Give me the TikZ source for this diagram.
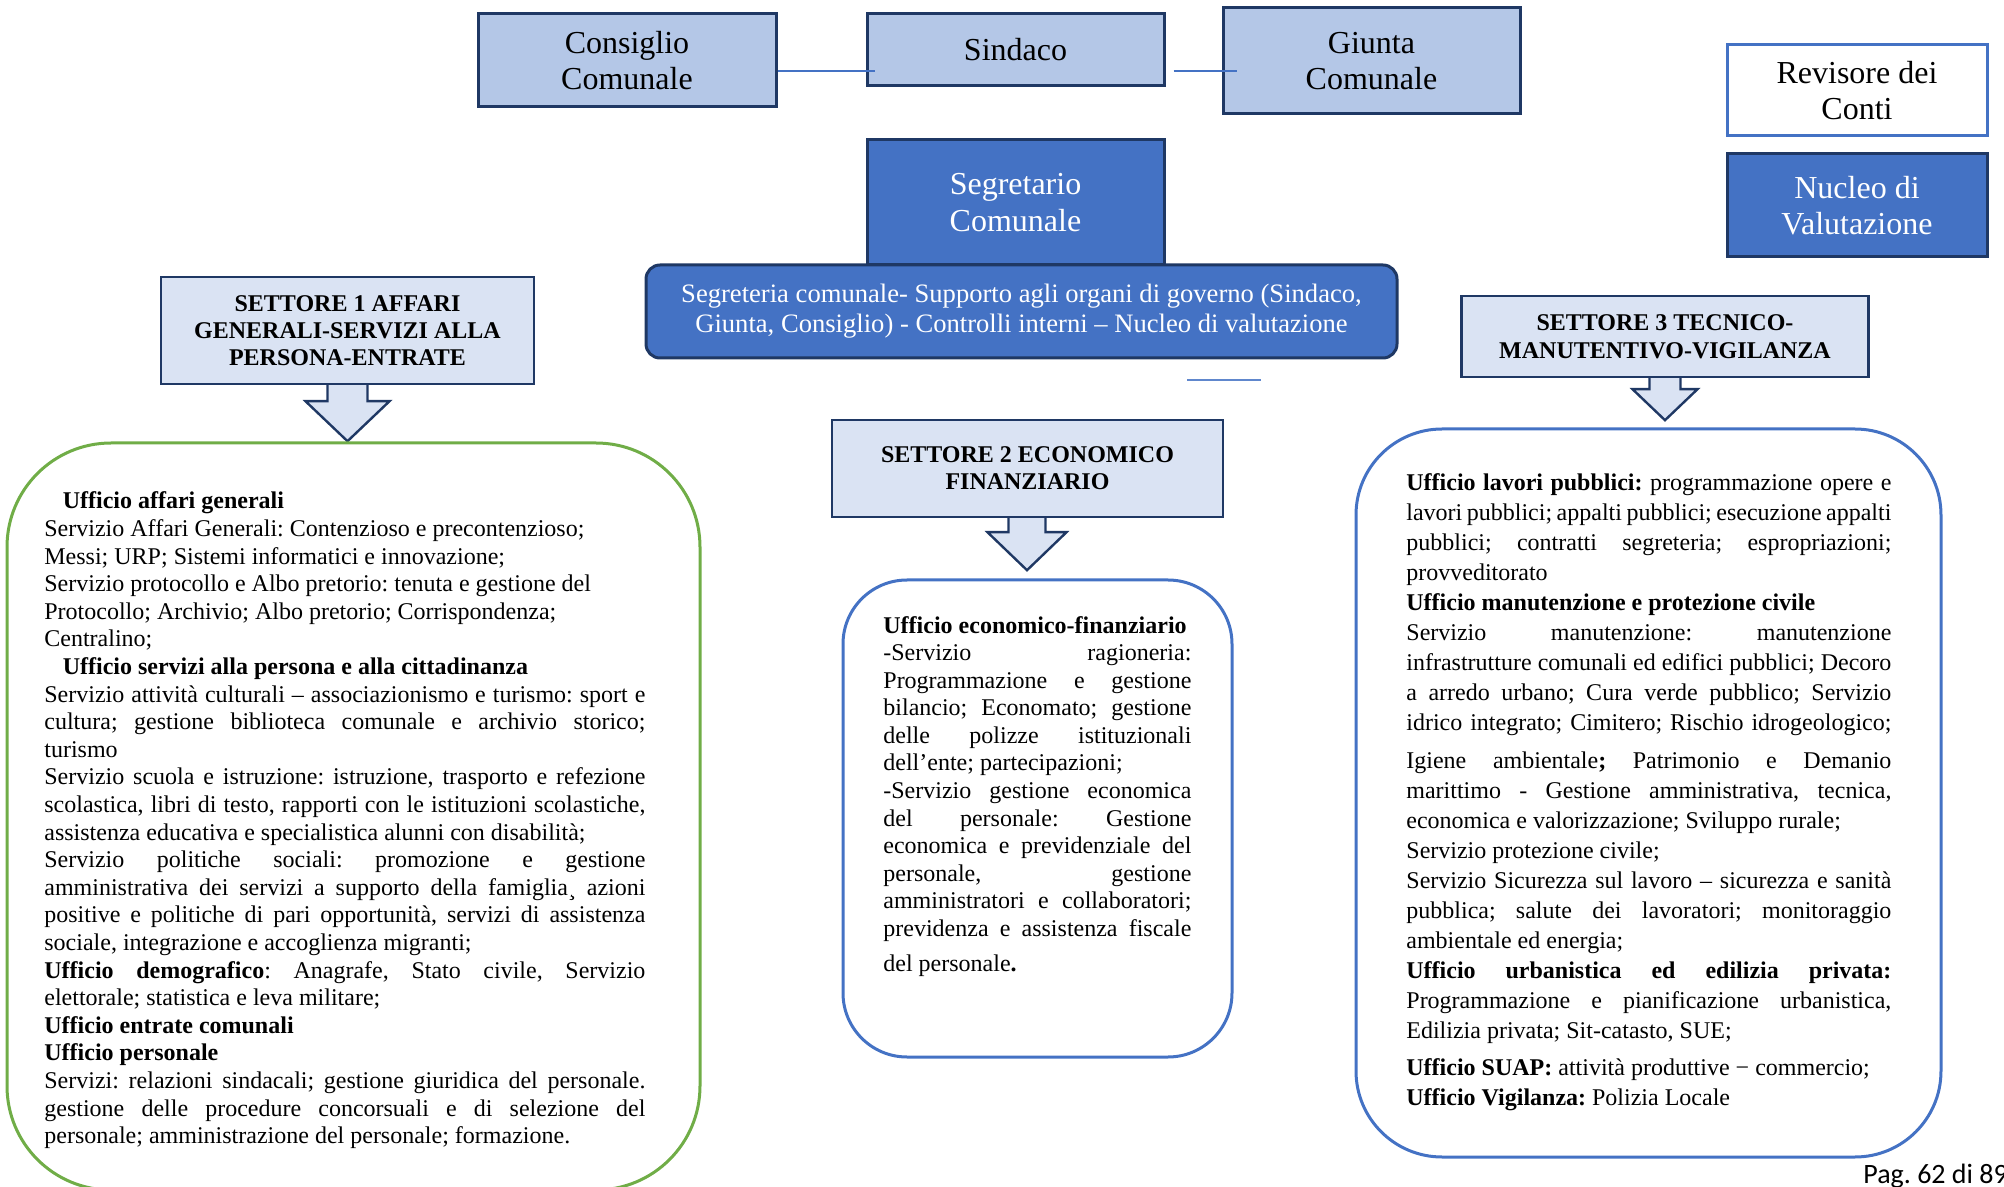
\documentclass[tikz,border=0pt]{standalone}
\usepackage{fontspec}
\setmainfont{Liberation Serif}
\newfontfamily\calibri{Carlito}

\definecolor{navy}{HTML}{1F3864}
\definecolor{ltblue}{HTML}{B4C7E7}
\definecolor{paleblue}{HTML}{DAE3F3}
\definecolor{midblue}{HTML}{4472C4}
\definecolor{verde}{HTML}{70AD47}

\tolerance=10000
\hbadness=10000
\hyphenpenalty=10000
\exhyphenpenalty=10000
\frenchspacing

\begin{document}
\begin{tikzpicture}[x=0.5pt,y=-0.5pt,
    organo/.style={draw=navy,line width=1.5pt,fill=ltblue,inner sep=0pt,align=center,font=\fontsize{16}{18.3}\selectfont},
    scuro/.style={draw=navy,line width=1.5pt,fill=midblue,text=white,inner sep=0pt,align=center,font=\fontsize{16}{18.3}\selectfont},
    settore/.style={draw=navy,line width=1.2pt,fill=paleblue,inner sep=0pt,align=center,font=\bfseries\fontsize{12}{13.6}\selectfont},
    freccia/.style={draw=navy,line width=1.2pt,fill=paleblue,line join=miter},
    ufficio/.style={line width=1.5pt,inner sep=0pt},
    testo/.style={anchor=base west,inner sep=0pt,align=justify,font=\fontsize{12}{13.8}\selectfont},
    linea/.style={midblue,line width=0.8pt}]

    % Page frame
    \useasboundingbox (0,0) rectangle (2004,1187);
    \clip (0,0) rectangle (2004,1187);

    % Organi di governo
    \node[organo,minimum width=149pt,minimum height=46.5pt] (cons) at (627,60.5) {Consiglio\\Comunale};
    \node[organo,minimum width=148.5pt,minimum height=36pt] (sind) at (1015.5,50) {Sindaco};
    \node[organo,minimum width=148.5pt,minimum height=53pt] (giunta) at (1371.5,61) {Giunta\\Comunale};

    % Links between organi
    \coordinate (ly) at (0,71);
    \draw[linea] (cons.east |- ly) -- ([xshift=4.5pt]sind.west |- ly);
    \draw[linea] ([xshift=4pt]sind.east |- ly) -- ([xshift=7.5pt]giunta.west |- ly);

    % Controllo
    \node[organo,fill=white,draw=midblue,minimum width=130pt,minimum height=45.5pt] (rev) at (1857,90.5) {Revisore dei\\Conti};
    \node[scuro,minimum width=130pt,minimum height=51.5pt] (nucleo) at (1857,205.5) {Nucleo di\\Valutazione};

    % Segretario
    \node[scuro,minimum width=148.5pt,minimum height=62.5pt] (segr) at (1015.5,202.5) {Segretario\\Comunale};
    \node[scuro,rounded corners=7pt,minimum width=375.5pt,minimum height=46.5pt,font=\fontsize{13.3}{15}\selectfont] (segreteria) at (1021.5,311.5)
        {Segreteria comunale- Supporto agli organi di governo (Sindaco,\\Giunta, Consiglio) - Controlli interni -- Nucleo di valutazione};
    \coordinate (s1) at (1187,380);
    \coordinate (s2) at (1261,380);
    \draw[linea,midblue!85] (s1) -- (s2);

    % Settori
    \node[settore,minimum width=186.5pt,minimum height=53.5pt] (set1) at (347.5,330.5) {SETTORE 1 AFFARI\\GENERALI-SERVIZI ALLA\\PERSONA-ENTRATE};
    \node[settore,minimum width=195.5pt,minimum height=48.5pt] (set2) at (1027.5,468.5) {SETTORE 2 ECONOMICO\\FINANZIARIO};
    \node[settore,font=\bfseries\fontsize{12}{14}\selectfont,minimum width=203.5pt,minimum height=40.5pt] (set3) at (1665,336.5) {SETTORE 3 TECNICO-\\MANUTENTIVO-VIGILANZA};

    % Block arrows
    \draw[freccia] ([xshift=-10pt]set1.south) -- ++(0,16) -- ++(-22,0) -- ++(42,40) -- ++(42,-40) -- ++(-22,0) -- ++(0,-16);
    \draw[freccia] ([xshift=-9.5pt]set2.south) -- ++(0,14) -- ++(-21,0) -- ++(39.5,38) -- ++(39.5,-38) -- ++(-21,0) -- ++(0,-14);
    \draw[freccia] ([xshift=-7.75pt]set3.south) -- ++(0,11) -- ++(-17,0) -- ++(32.5,31) -- ++(32.5,-31) -- ++(-17,0) -- ++(0,-11);

    % Uffici boxes
    \node[ufficio,draw=verde,rounded corners=52pt,minimum width=346.5pt,minimum height=373.5pt] (box1) at (353.5,816.5) {};
    \node[ufficio,draw=midblue,rounded corners=32pt,minimum width=194.5pt,minimum height=238.5pt] (box2) at (1037.5,818.5) {};
    \node[ufficio,draw=midblue,rounded corners=43pt,minimum width=292.5pt,minimum height=364pt] (box3) at (1648.5,793) {};

    % Settore 1 text
    \node[testo,text width=300.5pt] (txt1) at (44,509) {%
        \hspace*{9.2pt}\textbf{Ufficio affari generali}\newline
        Servizio Affari Generali: Contenzioso e precontenzioso;\newline
        Messi; URP; Sistemi informatici e innovazione;\newline
        Servizio protocollo e Albo pretorio: tenuta e gestione del\newline
        Protocollo; Archivio; Albo pretorio; Corrispondenza;\newline
        Centralino;\newline
        \hspace*{9.2pt}\textbf{Ufficio servizi alla persona e alla cittadinanza}\newline
        Servizio attività culturali – associazionismo e turismo: sport e\linebreak
        cultura; gestione biblioteca comunale e archivio storico;\linebreak
        turismo\par
        Servizio scuola e istruzione: istruzione, trasporto e refezione\linebreak
        scolastica, libri di testo, rapporti con le istituzioni scolastiche,\linebreak
        assistenza educativa e specialistica alunni con disabilità;\par
        Servizio politiche sociali: promozione e gestione\linebreak
        amministrativa dei servizi a supporto della famiglia¸ azioni\linebreak
        positive e politiche di pari opportunità, servizi di assistenza\linebreak
        sociale, integrazione e accoglienza migranti;\par
        \textbf{Ufficio demografico}: Anagrafe, Stato civile, Servizio\linebreak
        elettorale; statistica e leva militare;\par
        \textbf{Ufficio entrate comunali}\par
        \textbf{Ufficio personale}\par
        Servizi: relazioni sindacali; gestione giuridica del personale.\linebreak
        gestione delle procedure concorsuali e di selezione del\linebreak
        personale; amministrazione del personale; formazione.};

    % Settore 2 text
    \node[testo,text width=154pt] (txt2) at (883,633) {%
        \textbf{Ufficio economico-finanziario}\newline
        -Servizio ragioneria:\linebreak
        Programmazione e gestione\linebreak
        bilancio; Economato; gestione\linebreak
        delle polizze istituzionali\linebreak
        dell’ente; partecipazioni;\par
        -Servizio gestione economica\linebreak
        del personale: Gestione\linebreak
        economica e previdenziale del\linebreak
        personale, gestione\linebreak
        amministratori e collaboratori;\linebreak
        previdenza e assistenza fiscale\vspace{3.5pt}\linebreak
        del personale\textbf{.}};

    % Settore 3 text
    \node[testo,text width=242.5pt,font=\fontsize{12}{15}\selectfont] (txt3) at (1406,491) {%
        \textbf{Ufficio lavori pubblici:} programmazione opere e\linebreak
        lavori pubblici; appalti pubblici; esecuzione appalti\linebreak
        pubblici; contratti segreteria; espropriazioni;\linebreak
        provveditorato\par
        \textbf{Ufficio manutenzione e protezione civile}\par
        Servizio manutenzione: manutenzione\linebreak
        infrastrutture comunali ed edifici pubblici; Decoro\linebreak
        a arredo urbano; Cura verde pubblico; Servizio\linebreak
        idrico integrato; Cimitero; Rischio idrogeologico;\vspace{4pt}\linebreak
        Igiene ambientale\textbf{;} Patrimonio e Demanio\linebreak
        marittimo - Gestione amministrativa, tecnica,\linebreak
        economica e valorizzazione; Sviluppo rurale;\par
        Servizio protezione civile;\par
        Servizio Sicurezza sul lavoro – sicurezza e sanità\linebreak
        pubblica; salute dei lavoratori; monitoraggio\linebreak
        ambientale ed energia;\par
        \textbf{Ufficio urbanistica ed edilizia privata:}\linebreak
        Programmazione e pianificazione urbanistica,\linebreak
        Edilizia privata; Sit-catasto, SUE;\par\vspace{3.5pt}
        \textbf{Ufficio SUAP:} attività produttive − commercio;\par
        \textbf{Ufficio Vigilanza:} Polizia Locale};

    % Page number
    \node[anchor=base west,inner sep=0pt,font=\calibri\fontsize{14}{17}\selectfont] (pag) at (1863,1183) {Pag. 62 di 89};
\end{tikzpicture}
\end{document}
